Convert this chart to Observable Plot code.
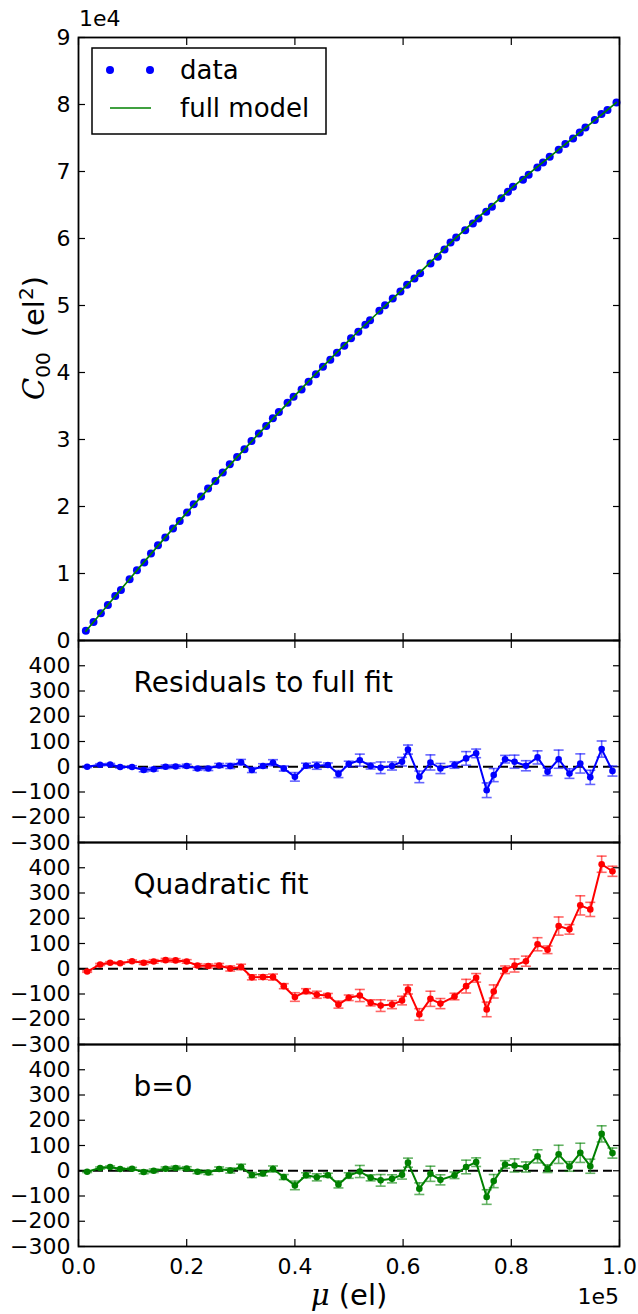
<!DOCTYPE html>
<html>
<head>
<meta charset="utf-8">
<script src="https://cdn.jsdelivr.net/npm/d3@7"></script>
<script src="https://cdn.jsdelivr.net/npm/@observablehq/plot@0.6"></script>
<style>
  body { margin: 0; background: white; }
  #fig { position: relative; width: 638px; height: 1314px; background: white; font-family: "DejaVu Sans", sans-serif; }
  #fig svg { position: absolute; left: 0; overflow: visible; }
</style>
</head>
<body>
<div id="fig"></div>
<script>
// ---------- data ----------
const muData = [1358,2778,4136,5432,6790,7840,9445,10803,12161,13395,14692,16050,17470,18704,20062,21297,22655,23951,25309,26667,27963,29322,30680,31976,33334,34692,35927,37040,
  38640,39753,41236,42532,43890,45186,46544,47779,49137,50371,51729,53026,53890,55618,56667,58087,59507,60741,62099,63148,65062,66420,
  67655,68766,69815,71482,72902,73951,75371,76420,78149,79383,80309,82161,83210,84815,85864,87099,88765,90000,91420,92654,93704,95432,96667,97778,99444];
const cData = [1448,2776,4070,5314,6658,7553,9145,10488,11632,12975,14219,15363,16706,17850,19094,20338,21482,22676,23820,25064,26308,27402,28547,29791,30885,32029,33173,34100,
  35500,36372,37466,38610,39754,40849,41893,42938,43983,45127,46072,47117,47814,49207,50053,51048,52093,53088,54033,54829,56272,57267,
  58350,59409,60155,61250,62245,62991,63986,64733,66026,66971,67717,68762,69508,70603,71349,72195,73240,74086,74932,75827,76574,77668,78564,79161,80305];
const muModel = [1358,10000,20000,30000,40000,50000,60000,70000,80000,90000,99444];
const cModel  = [1400,9700,19040,27970,36560,44780,52490,60270,67470,74090,80305];

const muBin = [1600,4000,5850,7700,9900,12050,13900,16100,17950,20000,22000,24000,26000,28050,30050,32050,34100,35950,37950,40000,42050,44050,46100,48050,49950,
  52000,54000,55850,57950,59800,60900,63000,65050,66900,69500,71650,73500,75450,76750,78850,80600,82700,84850,86700,88750,90750,92750,94600,96700,98700];
const resFull = [0,8,9,-1,-1,-13,-10,0,1,3,-7,-7,5,3,18,-13,3,16,-7,-40,4,4,7,-29,11,
  26,3,-4,3,20,68,-40,17,-7,7,33,53,-93,-33,30,20,4,37,-20,30,-27,13,-42,70,-17];
const resQuad = [-11,17,24,22,30,24,29,34,33,29,13,11,13,1,7,-34,-33,-33,-69,-112,-89,-103,-106,-142,-115,
  -106,-135,-146,-142,-126,-82,-181,-119,-138,-110,-69,-36,-161,-90,-4,13,30,97,75,169,156,251,235,414,386];
const resB0 = [-4,11,15,7,8,-5,0,8,11,9,-4,-7,7,1,15,-17,-11,7,-25,-58,-18,-26,-18,-54,-19,
  -3,-28,-38,-32,-16,32,-71,-12,-36,-18,15,34,-104,-41,25,21,15,57,8,65,17,71,18,146,70];
const errBin = [3,4,4,4,5,7,7,7,7,7,7,8,8,10,11,10,9,12,10,17,10,14,8,14,11,
  24,12,23,16,17,18,23,30,20,13,27,17,29,26,15,26,20,26,15,36,19,38,28,32,20];

const xTicks = [0,20000,40000,60000,80000,100000];
const xTickLabels = ["0.0","0.2","0.4","0.6","0.8","1.0"];
const yTicksTop = [0,10000,20000,30000,40000,50000,60000,70000,80000,90000];
const yTickLabelsTop = ["0","1","2","3","4","5","6","7","8","9"];
const yTicksRes = [-300,-200,-100,0,100,200,300,400,500];
const yLabelTicksRes = [-300,-200,-100,0,100,200,300,400];
const yTickLabelsRes = ["\u2212300","\u2212200","\u2212100","0","100","200","300","400"];
const panelLabels = ["Residuals to full fit","Quadratic fit","b=0"];
const panelColors = ["#0000ff","#ff0000","#008000"];
const legendLabels = ["data","full model"];

// ---------- layout ----------
const W = 638, ML = 78, MR = 19;
const FONT = "DejaVu Sans";
const fig = document.getElementById("fig");
const capSymbol = {draw(ctx, size) { const w = Math.sqrt(size / Math.PI); ctx.moveTo(-w, 0); ctx.lineTo(w, 0); }};
const TICK = 7;

function frameTicks(yt) {
  return [
    Plot.axisY(yt, {anchor: "left", tickSize: TICK, dx: TICK, fill: "none", label: null, strokeWidth: 1.2}),
    Plot.axisY(yt, {anchor: "right", tickSize: TICK, dx: -TICK, fill: "none", label: null, strokeWidth: 1.2}),
    Plot.axisX(xTicks, {anchor: "bottom", tickSize: TICK, dy: -TICK, fill: "none", label: null, strokeWidth: 1.2}),
    Plot.axisX(xTicks, {anchor: "top", tickSize: TICK, dy: TICK, fill: "none", label: null, strokeWidth: 1.2})
  ];
}

// ---------- top panel ----------
const topData = muData.map((m, i) => ({mu: m, c: cData[i]}));
const modelData = muModel.map((m, i) => ({mu: m, c: cModel[i]}));
const p1 = Plot.plot({
  width: W, height: 660, marginLeft: ML, marginRight: MR, marginTop: 37, marginBottom: 20,
  style: {fontFamily: FONT, fontSize: "22px", background: "transparent", overflow: "visible", color: "black"},
  x: {domain: [0, 100000]},
  y: {domain: [0, 90000]},
  marks: [
    ...frameTicks(yTicksTop),
    Plot.axisY(yTicksTop, {anchor: "left", tickSize: 0, tickPadding: 8, label: null, fontSize: 22,
      tickFormat: d => yTickLabelsTop[yTicksTop.indexOf(d)]}),
    Plot.dot(topData, {x: "mu", y: "c", r: 4, fill: "#0000ff"}),
    Plot.line(modelData, {x: "mu", y: "c", stroke: "#008000", strokeWidth: 1.7, curve: "monotone-x"}),
    Plot.frame({stroke: "black", strokeWidth: 1.8})
  ]
});
p1.style.top = "0px";
fig.appendChild(p1);
{
  const s = d3.select(p1);
  s.append("text").attr("x", 79).attr("y", 26).attr("text-anchor", "start").attr("font-size", 22).attr("font-family", FONT).text("1e4");
  const yl = s.append("text").attr("transform", "translate(44,338) rotate(-90)").attr("text-anchor", "middle")
    .attr("font-size", 29).attr("font-family", FONT);
  yl.append("tspan").attr("font-family", "DejaVu Serif").attr("font-style", "italic").text("C");
  yl.append("tspan").attr("font-size", 20).attr("dy", 6).text("00");
  yl.append("tspan").attr("dy", -6).text("\u2009 (el");
  yl.append("tspan").attr("font-size", 20).attr("dy", -11).text("2");
  yl.append("tspan").attr("dy", 11).text(")");
  // legend
  const lg = s.append("g").attr("text-anchor", "start");
  lg.append("rect").attr("x", 92).attr("y", 48).attr("width", 234).attr("height", 86)
    .attr("fill", "white").attr("stroke", "black").attr("stroke-width", 1.5);
  lg.append("circle").attr("cx", 110).attr("cy", 70).attr("r", 4).attr("fill", "#0000ff");
  lg.append("circle").attr("cx", 150).attr("cy", 70).attr("r", 4).attr("fill", "#0000ff");
  lg.append("line").attr("x1", 110).attr("x2", 151).attr("y1", 108).attr("y2", 108).attr("stroke", "#008000").attr("stroke-width", 1.7);
  lg.append("text").attr("x", 180).attr("y", 79).attr("text-anchor", "start").attr("font-size", 26).attr("font-family", FONT).text(legendLabels[0]);
  lg.append("text").attr("x", 180).attr("y", 117).attr("text-anchor", "start").attr("font-size", 26).attr("font-family", FONT).text(legendLabels[1]);
}

// ---------- residual panels ----------
const resSets = [resFull, resQuad, resB0];
const frameTops = [640, 842, 1044];
resSets.forEach((res, k) => {
  const last = k === 2;
  const padT = 20, padB = last ? 68 : 20;
  const color = panelColors[k];
  const data = muBin.map((m, i) => ({mu: m, r: res[i], e: errBin[i]}));
  const marks = [
    ...frameTicks(yTicksRes),
    Plot.axisY(yLabelTicksRes, {anchor: "left", tickSize: 0, tickPadding: 8, label: null, fontSize: 22,
      tickFormat: d => yTickLabelsRes[yLabelTicksRes.indexOf(d)]}),
    Plot.ruleY([0], {x1: xTicks[0], x2: d3.max(muBin), stroke: "black", strokeWidth: 1.8, strokeDasharray: "10,5"}),
    Plot.ruleX(data, {x: "mu", y1: d => d.r - d.e, y2: d => d.r + d.e, stroke: color, strokeOpacity: 0.6, strokeWidth: 1.6}),
    Plot.dot(data, {x: "mu", y: d => d.r + d.e, symbol: capSymbol, r: 5, stroke: color, strokeOpacity: 0.6, strokeWidth: 1.6, fill: "none"}),
    Plot.dot(data, {x: "mu", y: d => d.r - d.e, symbol: capSymbol, r: 5, stroke: color, strokeOpacity: 0.6, strokeWidth: 1.6, fill: "none"}),
    Plot.line(data, {x: "mu", y: "r", stroke: color, strokeWidth: 2}),
    Plot.dot(data, {x: "mu", y: "r", r: 3.3, fill: color}),
    Plot.text([panelLabels[k]], {frameAnchor: "top-left", dx: 55, dy: 43, lineAnchor: "middle", textAnchor: "start", fontSize: 28, fill: "black"}),
    Plot.frame({stroke: "black", strokeWidth: 1.8})
  ];
  if (last) {
    marks.push(Plot.axisX(xTicks, {anchor: "bottom", tickSize: 0, tickPadding: 12, label: null, fontSize: 22,
      tickFormat: d => xTickLabels[xTicks.indexOf(d)]}));
  }
  const p = Plot.plot({
    width: W, height: 202 + padT + padB, marginLeft: ML, marginRight: MR, marginTop: padT, marginBottom: padB,
    style: {fontFamily: FONT, fontSize: "22px", background: "transparent", overflow: "visible", color: "black"},
    x: {domain: [0, 100000]},
    y: {domain: [-300, 500]},
    marks
  });
  p.style.top = (frameTops[k] - padT) + "px";
  fig.appendChild(p);
  if (last) {
    const s = d3.select(p);
    s.append("text").attr("x", 619).attr("y", 280).attr("text-anchor", "end").attr("font-size", 22).attr("font-family", FONT).text("1e5");
    const xl = s.append("text").attr("x", 349).attr("y", 281).attr("text-anchor", "middle").attr("font-size", 29).attr("font-family", FONT);
    xl.append("tspan").attr("font-family", "DejaVu Serif").attr("font-style", "italic").text("\u03bc");
    xl.append("tspan").text(" (el)");
  }
});
</script>
</body>
</html>
